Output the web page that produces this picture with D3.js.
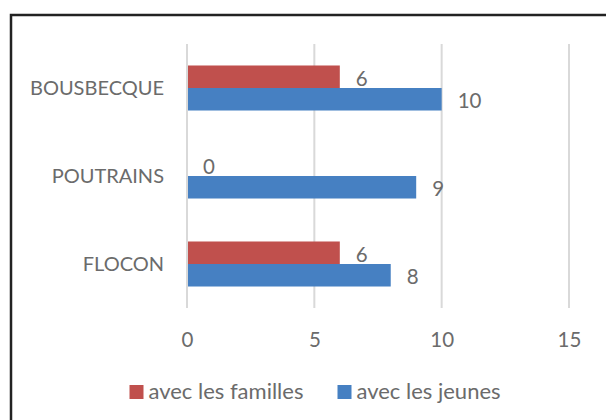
<!DOCTYPE html>
<html><head><meta charset="utf-8">
<script src="https://cdn.jsdelivr.net/npm/d3@7"></script>
<style>html,body{margin:0;padding:0;background:#fff;overflow:hidden}</style>
</head><body>
<svg id="c" width="606" height="420"></svg>
<script>
const categories = ["BOUSBECQUE", "POUTRAINS", "FLOCON"];
const seriesNames = ["avec les familles", "avec les jeunes"];
const familles = [6, 0, 6];
const jeunes = [10, 9, 8];
const xTicks = [0, 5, 10, 15];
const colors = ["#C0504D", "#4680C2"];

const FONT = "Lato, 'Open Sans', sans-serif";
const TXT = "#6b6b6b";
const svg = d3.select("#c");

svg.append("rect").attr("x", 11).attr("y", 15).attr("width", 620).attr("height", 430)
  .attr("fill", "none").attr("stroke", "#222").attr("stroke-width", 2.5);

const x = d3.scaleLinear().domain([0, 15]).range([187, 569]);
const y = d3.scaleBand().domain(categories).range([44, 308]);
const yi = d3.scaleBand().domain(seriesNames).range([0, y.bandwidth()]).paddingInner(0).paddingOuter(0.955);

// gridlines
svg.append("g").selectAll("line").data(xTicks).join("line")
  .attr("x1", d => x(d)).attr("x2", d => x(d)).attr("y1", 44).attr("y2", 308)
  .attr("stroke", "#d9d9d9").attr("stroke-width", 2);

// x axis labels
const xAxis = d3.axisBottom(x).tickValues(xTicks).tickSize(0).tickPadding(0);
const gx = svg.append("g").attr("transform", "translate(0,332)").call(xAxis);
gx.select(".domain").remove();
gx.selectAll("text").attr("font-family", FONT).attr("font-size", 20.5).attr("fill", TXT)
  .attr("dy", "0.72em");

// category labels
const yAxis = d3.axisLeft(y).tickSize(0).tickPadding(0);
const gy = svg.append("g").attr("transform", "translate(164,0)").call(yAxis);
gy.select(".domain").remove();
gy.selectAll("text").attr("font-family", FONT).attr("font-size", 20).attr("fill", TXT)
  .attr("dy", "0.36em");

const data = [];
categories.forEach((c, i) => {
  data.push({cat: c, s: seriesNames[0], v: familles[i], col: colors[0]});
  data.push({cat: c, s: seriesNames[1], v: jeunes[i], col: colors[1]});
});

svg.append("g").selectAll("rect").data(data).join("rect")
  .attr("x", x(0) + 1).attr("y", d => y(d.cat) + yi(d.s))
  .attr("width", d => Math.max(0, x(d.v) - x(0) - 1)).attr("height", yi.bandwidth())
  .attr("fill", d => d.col);

svg.append("g").selectAll("text").data(data).join("text")
  .attr("x", d => x(d.v) + 16).attr("y", d => y(d.cat) + yi(d.s) + yi.bandwidth() / 2 + 1.5)
  .attr("dy", "0.36em")
  .attr("font-family", FONT).attr("font-size", 20.5).attr("fill", TXT)
  .text(d => d.v);

// legend
const leg = svg.append("g");
const legX = [129.5, 337.5];
seriesNames.forEach((s, i) => {
  leg.append("rect").attr("x", legX[i]).attr("y", 385).attr("width", 14).attr("height", 14).attr("fill", colors[i]);
  leg.append("text").attr("x", legX[i] + 19).attr("y", 399).attr("font-family", FONT)
    .attr("font-size", 22).attr("fill", TXT).text(s);
});
</script>
</body></html>
